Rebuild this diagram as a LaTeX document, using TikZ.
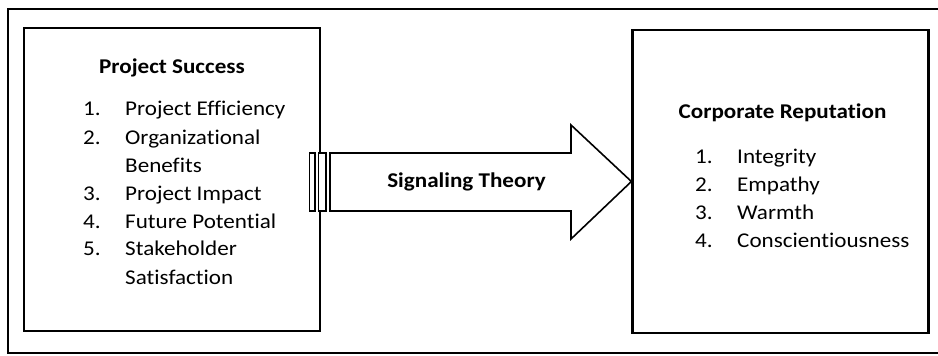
\documentclass[tikz,border=0pt]{standalone}
\usepackage{fontspec}
\setmainfont{Carlito}[FakeStretch=1.1,Ligatures={NoCommon}]
\begin{document}
\begin{tikzpicture}[x=1pt,y=-1pt,
  box/.style={draw=black,line width=2.2pt,minimum width=296pt,minimum height=303pt,inner sep=0pt},
  txt/.style={anchor=base west,inner sep=0pt,font=\fontsize{21}{24}\selectfont},
  ttl/.style={anchor=base,inner sep=0pt,font=\fontsize{21}{24}\selectfont\bfseries},
  arr/.style={draw=black,line width=1.6pt,fill=white,line join=miter}]
\useasboundingbox (0,0) rectangle (938,356);
\draw[line width=1.5pt] (945,9) -- (8,9) -- (8,353) -- (945,353);
\node[box] (L) at (172,179.5) {};
\node[box] (R) at (780.5,181.5) {};
% arrow
\coordinate (tip) at (R.west);
\draw[arr] (330,153) -- (571,153) -- (571,125) -- (tip) -- (571,239) -- (571,211) -- (330,211) -- cycle;
\draw[arr,line width=1.2pt] (309.5,153) rectangle (315,211);
\draw[arr,line width=1.2pt] (318.5,153) rectangle (326,211);
\node[ttl] (sig) at (466.5,187) {Signaling Theory};
% left texts
\node[ttl] (t1) at (172,73) {Project Success};
\node[txt] (n1) at (83,115) {1.};
\node[txt] (i1) at (125,115) {Project Efficiency};
\node[txt] (n2) at (83,144) {2.};
\node[txt] (i2) at (125,144) {Organizational};
\node[txt] (i2b) at (125,172) {Benefits};
\node[txt] (n3) at (83,200) {3.};
\node[txt] (i3) at (125,200) {Project Impact};
\node[txt] (n4) at (83,228) {4.};
\node[txt] (i4) at (125,228) {Future Potential};
\node[txt] (n5) at (83,255) {5.};
\node[txt] (i5) at (125,255) {Stakeholder};
\node[txt] (i5b) at (125,284) {Satisfaction};
% right texts
\node[ttl] (t2) at (782.5,118) {Corporate Reputation};
\node[txt] (m1) at (695,163) {1.};
\node[txt] (j1) at (737,163) {Integrity};
\node[txt] (m2) at (695,191) {2.};
\node[txt] (j2) at (737,191) {Empathy};
\node[txt] (m3) at (695,219) {3.};
\node[txt] (j3) at (737,219) {Warmth};
\node[txt] (m4) at (695,247) {4.};
\node[txt] (j4) at (737,247) {Conscientiousness};
\end{tikzpicture}
\end{document}
